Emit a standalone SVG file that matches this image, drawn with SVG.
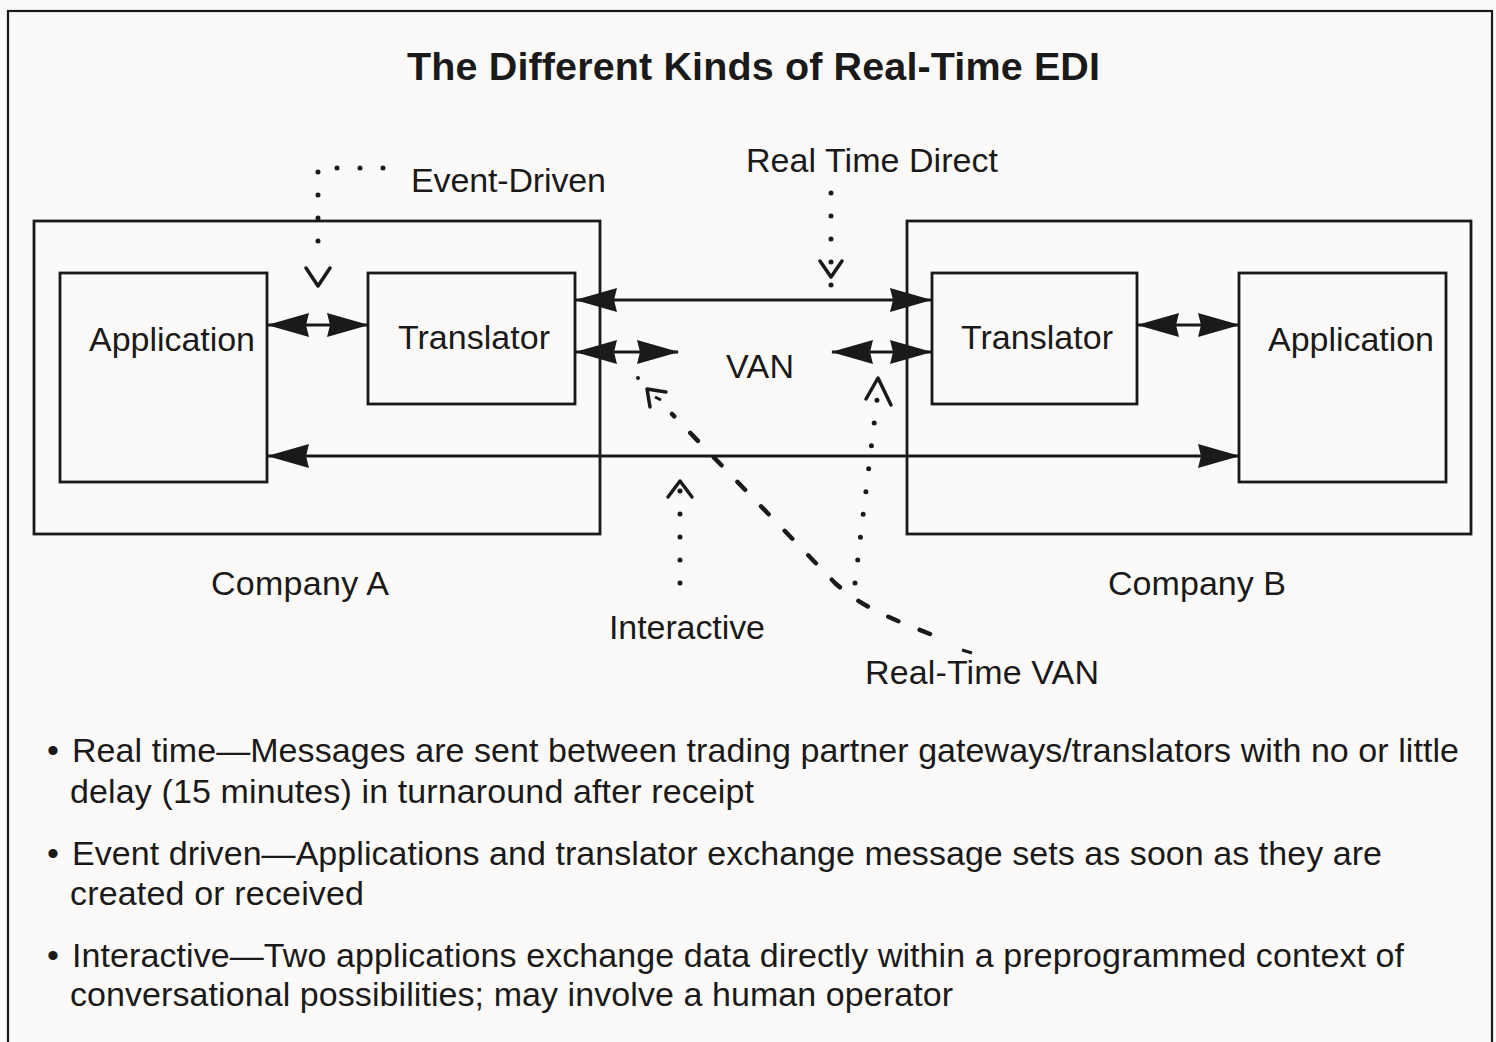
<svg xmlns="http://www.w3.org/2000/svg" width="1496" height="1042" viewBox="0 0 1496 1042">
<style>
text{font-family:"Liberation Sans",Arial,Helvetica,sans-serif;fill:#1b1a1a}
.lbl{font-size:34px}
.body{font-size:34px}
.title{font-size:39.5px;font-weight:bold}
.box{fill:none;stroke:#1b1a1a;stroke-width:2.8}
.conn{fill:none;stroke:#1b1a1a;stroke-width:3}
.dot{fill:none;stroke:#1b1a1a;stroke-width:5;stroke-linecap:round;stroke-dasharray:0 23}
.dash{fill:none;stroke:#1b1a1a;stroke-width:4.5;stroke-linecap:round;stroke-dasharray:11 23}
.chev{fill:none;stroke:#1b1a1a;stroke-width:3.5;stroke-linecap:round;stroke-linejoin:round}
</style>
<defs>
<marker id="ah" viewBox="0 0 42 24" markerWidth="42" markerHeight="24" refX="41" refY="12" orient="auto-start-reverse" markerUnits="userSpaceOnUse">
<path d="M0,0 L42,12 L0,24 L3,12 z" fill="#1b1a1a"/>
</marker>
</defs>
<rect x="0" y="0" width="1496" height="1042" fill="#fbfaf8"/>
<rect x="8" y="11" width="1484" height="1060" fill="none" stroke="#1b1a1a" stroke-width="2.2"/>
<text class="title" x="407" y="80" textLength="693">The Different Kinds of Real-Time EDI</text>

<g id="companyA">
<rect class="box" x="34" y="221" width="566" height="313"/>
<text class="lbl" x="211" y="595" textLength="178">Company A</text>
</g>
<g id="companyB">
<rect class="box" x="907" y="221" width="564" height="313"/>
<text class="lbl" x="1108" y="595" textLength="178">Company B</text>
</g>
<g id="applicationA">
<rect class="box" x="60" y="273" width="207" height="209"/>
<text class="lbl" x="89" y="351" textLength="166">Application</text>
</g>
<g id="translatorA">
<rect class="box" x="368" y="273" width="207" height="131"/>
<text class="lbl" x="398" y="349" textLength="152">Translator</text>
</g>
<g id="van">
<text class="lbl" x="726" y="378" textLength="68">VAN</text>
</g>
<g id="translatorB">
<rect class="box" x="932" y="273" width="205" height="131"/>
<text class="lbl" x="961" y="349" textLength="152">Translator</text>
</g>
<g id="applicationB">
<rect class="box" x="1239" y="273" width="207" height="209"/>
<text class="lbl" x="1268" y="351" textLength="166">Application</text>
</g>

<g id="labels">
<text class="lbl" x="411" y="192" textLength="195">Event-Driven</text>
<text class="lbl" x="746" y="172" textLength="252">Real Time Direct</text>
<text class="lbl" x="609" y="639" textLength="156">Interactive</text>
<text class="lbl" x="865" y="684" textLength="234">Real-Time VAN</text>
</g>

<g id="connectors">
<path class="conn" d="M268,325 H368" marker-start="url(#ah)" marker-end="url(#ah)"/>
<path class="conn" d="M576,300 H931" marker-start="url(#ah)" marker-end="url(#ah)"/>
<path class="conn" d="M576,352 H678" marker-start="url(#ah)" marker-end="url(#ah)"/>
<path class="conn" d="M832,352 H931" marker-start="url(#ah)" marker-end="url(#ah)"/>
<path class="conn" d="M1138,325 H1239" marker-start="url(#ah)" marker-end="url(#ah)"/>
<path class="conn" d="M268,456 H1239" marker-start="url(#ah)" marker-end="url(#ah)"/>

<!-- Event-Driven -->
<path class="dot" d="M383,168 H318 V262"/>
<path class="chev" d="M306,268 L318,286 L330,268"/>
<!-- Real Time Direct -->
<path class="dot" d="M831,193 V286"/>
<path class="chev" d="M820,261 L831,277 L842,261"/>
<!-- Interactive -->
<path class="dot" d="M680,583 V468"/>
<path class="chev" d="M668,497 L680,481 L692,497"/>
<!-- Real-Time VAN dotted -->
<path class="dot" d="M855,583 Q866,490 877,400"/>
<path class="chev" d="M866,399 L878,378 L891,405"/>
<!-- Real-Time VAN dashed -->
<path class="dash" d="M930,634 C895,620 862,608 835,583 L672,414"/>
<path class="conn" d="M962,650 L972,653" stroke-width="2.5"/>
<path class="chev" d="M650,407 L647,389 L666,392"/>
<path class="conn" d="M655,397 L661,400" stroke-width="3.5"/>
<circle cx="638" cy="378" r="2" fill="#1b1a1a"/>
</g>

<g id="notes">
<text class="body" x="47" y="762" font-size="26">•</text>
<text class="body" x="72" y="762" textLength="1387">Real time—Messages are sent between trading partner gateways/translators with no or little</text>
<text class="body" x="70" y="803" textLength="684">delay (15 minutes) in turnaround after receipt</text>
<text class="body" x="47" y="865" font-size="26">•</text>
<text class="body" x="72" y="865" textLength="1310">Event driven—Applications and translator exchange message sets as soon as they are</text>
<text class="body" x="70" y="905" textLength="294">created or received</text>
<text class="body" x="47" y="967" font-size="26">•</text>
<text class="body" x="72" y="967" textLength="1332">Interactive—Two applications exchange data directly within a preprogrammed context of</text>
<text class="body" x="70" y="1006" textLength="883">conversational possibilities; may involve a human operator</text>
</g>
</svg>
